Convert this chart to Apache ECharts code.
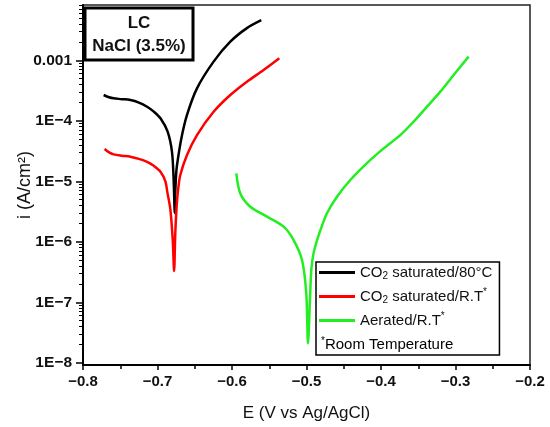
<!DOCTYPE html>
<html style="height: 100%;">
  <head>
    <meta charset="utf-8" />
    <script src="https://cdn.jsdelivr.net/npm/echarts/dist/echarts.min.js"></script>
  </head>
  <body style="height: 100%; margin: 0;">
    <div id="container" style="width: 550px; height: 427px;"></div>
    <script type="text/javascript">
      // E (V vs Ag/AgCl), i (A/cm2)
      var co2HotE = [-0.7723, -0.765, -0.759, -0.748, -0.7365, -0.725, -0.714, -0.705, -0.696, -0.6864, -0.6806, -0.6785, -0.6775, -0.677, -0.6763, -0.675, -0.6738, -0.668, -0.6604, -0.647, -0.6247, -0.6023, -0.58, -0.5607];
      var co2HotI = [2.67e-4, 2.45e-4, 2.35e-4, 2.28e-4, 2.2e-4, 2.0e-4, 1.71e-4, 1.42e-4, 1.1e-4, 6.6e-5, 3.1e-5, 1.2e-5, 5e-6, 3e-6, 6e-6, 1.3e-5, 1.86e-5, 5.1e-5, 1.25e-4, 3.44e-4, 9.5e-4, 2.03e-3, 3.4e-3, 4.6e-3];

      var co2RtE = [-0.771, -0.765, -0.759, -0.748, -0.7365, -0.725, -0.714, -0.705, -0.696, -0.6894, -0.6867, -0.6827, -0.6795, -0.6777, -0.6762, -0.6745, -0.6725, -0.6694, -0.6604, -0.647, -0.6247, -0.6023, -0.58, -0.5576, -0.5365];
      var co2RtI = [3.42e-5, 3.0e-5, 2.79e-5, 2.65e-5, 2.55e-5, 2.35e-5, 2.1e-5, 1.8e-5, 1.44e-5, 1.0e-5, 6.5e-6, 3.4e-6, 1.05e-6, 3.3e-7, 1.3e-6, 3.5e-6, 7e-6, 1.27e-5, 2.72e-5, 5.8e-5, 1.41e-4, 2.67e-4, 4.43e-4, 6.9e-4, 1.08e-3];

      var airE = [-0.5942, -0.5889, -0.5754, -0.553, -0.5307, -0.5173, -0.506, -0.5003, -0.498, -0.4952, -0.4935, -0.4905, -0.4855, -0.4795, -0.4725, -0.4591, -0.4412, -0.4188, -0.3965, -0.3741, -0.3562, -0.3383, -0.3204, -0.3025, -0.2824];
      var airI = [1.35e-5, 6.3e-6, 3.8e-6, 2.6e-6, 1.78e-6, 1.07e-6, 5e-7, 1.4e-7, 2.1e-8, 1.2e-7, 3.5e-7, 6.5e-7, 1.1e-6, 1.8e-6, 2.96e-6, 5.56e-6, 1.05e-5, 2.0e-5, 3.5e-5, 5.8e-5, 9.7e-5, 1.71e-4, 3.03e-4, 5.7e-4, 1.15e-3];

      var seriesNames = ["CO2 saturated/80°C", "CO2 saturated/R.T*", "Aerated/R.T*"];
      var seriesColors = ["#000000", "#ff0000", "#22ee22"];
      var xTicks = [-0.8, -0.2, 0.1];
      var yRange = [9.2e-9, 8.2e-3];

      function pairs(xs, ys) {
        return xs.map(function (x, k) { return [x, ys[k]]; });
      }

      // minor tick positions 2..9 of every decade
      var yMinor = [];
      for (var d = -9; d <= -3; d++) {
        for (var m = 2; m <= 9; m++) {
          var v = m * Math.pow(10, d);
          if (v > yRange[0] && v < yRange[1]) yMinor.push(v);
        }
      }

      var font = "'Liberation Sans', Arial, sans-serif";
      var legendRich = {
        n: { fontSize: 15, fontFamily: font, color: "#111", lineHeight: 18 },
        s: { fontSize: 10, fontFamily: font, color: "#111", lineHeight: 10, verticalAlign: "bottom" },
        p: { fontSize: 10, fontFamily: font, color: "#111", lineHeight: 10, verticalAlign: "top" }
      };

      var myChart = echarts.init(document.getElementById("container"));
      var option = {
        animation: false,
        backgroundColor: "#fff",
        grid: {
          left: 83, right: 20, top: 5, bottom: 62,
          outerBoundsMode: "none",
          show: true, borderColor: "#222", borderWidth: 1.5
        },
        legend: {
          data: seriesNames,
          orient: "vertical",
          left: 316, top: 262,
          padding: [3, 7, 27, 3],
          itemGap: 6,
          itemWidth: 36, itemHeight: 3,
          icon: "rect",
          borderColor: "#000", borderWidth: 1.5,
          backgroundColor: "#fff",
          textStyle: { rich: legendRich },
          formatter: function (name) {
            if (name === seriesNames[0]) return "{n|CO}{s|2}{n| saturated/80°C}";
            if (name === seriesNames[1]) return "{n|CO}{s|2}{n| saturated/R.T}{p|*}";
            return "{n|Aerated/R.T}{p|*}";
          }
        },
        graphic: [
          {
            type: "rect", z: 100,
            shape: { x: 85, y: 8, width: 108, height: 52 },
            style: { fill: "#fff", stroke: "#000", lineWidth: 3 }
          },
          {
            type: "text", z: 101, x: 139, y: 23,
            style: { text: "LC", font: "bold 17px " + font, fill: "#111", align: "center", verticalAlign: "middle" }
          },
          {
            type: "text", z: 101, x: 139, y: 46,
            style: { text: "NaCl (3.5%)", font: "bold 17px " + font, fill: "#111", align: "center", verticalAlign: "middle" }
          },
          {
            type: "text", z: 101, x: 321, y: 345,
            style: {
              text: "{p|*}{n|Room Temperature}",
              verticalAlign: "middle",
              rich: legendRich
            }
          }
        ],
        xAxis: {
          type: "value",
          min: xTicks[0], max: xTicks[1], interval: xTicks[2],
          name: "E (V vs Ag/AgCl)",
          nameLocation: "middle", nameGap: 40,
          nameMoveOverlap: false,
          nameTextStyle: { fontSize: 17, fontFamily: font, color: "#111" },
          axisLine: { onZero: false, lineStyle: { color: "#000", width: 2 } },
          axisTick: { length: 5, lineStyle: { color: "#000", width: 1.5 } },
          minorTick: { show: true, splitNumber: 2, length: 4, lineStyle: { color: "#000", width: 1.5 } },
          splitLine: { show: false },
          axisLabel: {
            margin: 9, fontSize: 15, fontWeight: "bold", fontFamily: font, color: "#111",
            formatter: function (v) { return v.toFixed(1).replace("-", "\u2212"); }
          }
        },
        yAxis: [
          {
            type: "log", logBase: 10,
            min: yRange[0], max: yRange[1],
            name: "i (A/cm\u00b2)",
            nameLocation: "middle", nameGap: 49,
            nameMoveOverlap: false,
            nameTextStyle: { fontSize: 18, fontFamily: font, color: "#111" },
            axisLine: { onZero: false, lineStyle: { color: "#000", width: 2 } },
            axisTick: { length: 7, lineStyle: { color: "#000", width: 1.5 } },
            splitLine: { show: false },
            axisLabel: {
              margin: 11, fontSize: 15.5, fontWeight: "bold", fontFamily: font, color: "#111",
              showMinLabel: false, showMaxLabel: false,
              formatter: function (v) {
                var e = Math.round(Math.log10(v));
                if (Math.abs(Math.log10(v) - e) > 1e-6) return "";
                return e === -3 ? "0.001" : "1E\u2212" + (-e);
              }
            }
          },
          {
            type: "log", logBase: 10,
            min: yRange[0], max: yRange[1],
            position: "left",
            axisLine: { show: false },
            axisLabel: { show: false },
            splitLine: { show: false },
            axisTick: { show: true, length: 4, customValues: yMinor, lineStyle: { color: "#000", width: 1 } }
          }
        ],
        series: [
          { name: seriesNames[0], data: pairs(co2HotE, co2HotI) },
          { name: seriesNames[1], data: pairs(co2RtE, co2RtI) },
          { name: seriesNames[2], data: pairs(airE, airI) }
        ].map(function (s, k) {
          return Object.assign(s, {
            type: "line", symbol: "none", smooth: 0.3,
            color: seriesColors[k],
            lineStyle: { color: seriesColors[k], width: 2.5 },
            z: 2 + k
          });
        })
      };
      myChart.setOption(option);
    </script>
  </body>
</html>
